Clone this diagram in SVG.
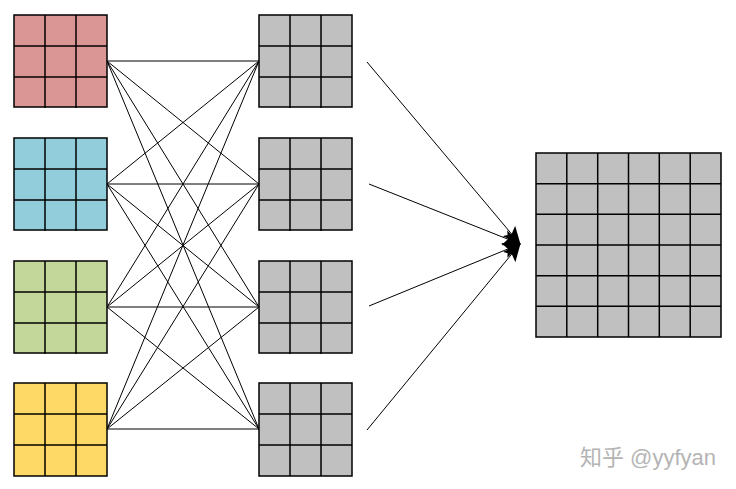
<svg xmlns="http://www.w3.org/2000/svg" width="736" height="489" viewBox="0 0 736 489">
<style>
.g line{stroke:#000;stroke-width:1.5}
.g rect{stroke:#000;stroke-width:1.5}
.c line{stroke:#000;stroke-width:1}
.red{fill:#DA9694}.blue{fill:#92CDDC}.green{fill:#C4D79B}.yellow{fill:#FFD966}.gray{fill:#C0C0C0}
.wm{font-family:"Liberation Sans","Noto Sans CJK SC",sans-serif;font-size:22px;fill:#b4b4b4}
</style>
<defs>
<marker id="ah" markerWidth="18" markerHeight="16" refX="17" refY="8" orient="auto" markerUnits="userSpaceOnUse">
<path d="M0,0 L18,8 L0,16 L4,8 Z" fill="#000"/>
</marker>
<g id="g3" stroke="#000" stroke-width="1.5">
<line x1="31" y1="0" x2="31" y2="93"/><line x1="62" y1="0" x2="62" y2="93"/>
<line x1="0" y1="31" x2="93" y2="31"/><line x1="0" y1="62" x2="93" y2="62"/>
</g>
</defs>
<rect width="736" height="489" fill="#fff"/>
<g id="connectors" class="c">
<line x1="107" y1="61" x2="259" y2="61"/><line x1="107" y1="61" x2="259" y2="184"/><line x1="107" y1="61" x2="259" y2="307"/><line x1="107" y1="61" x2="259" y2="429"/>
<line x1="107" y1="184" x2="259" y2="61"/><line x1="107" y1="184" x2="259" y2="184"/><line x1="107" y1="184" x2="259" y2="307"/><line x1="107" y1="184" x2="259" y2="429"/>
<line x1="107" y1="307" x2="259" y2="61"/><line x1="107" y1="307" x2="259" y2="184"/><line x1="107" y1="307" x2="259" y2="307"/><line x1="107" y1="307" x2="259" y2="429"/>
<line x1="107" y1="429" x2="259" y2="61"/><line x1="107" y1="429" x2="259" y2="184"/><line x1="107" y1="429" x2="259" y2="307"/><line x1="107" y1="429" x2="259" y2="429"/>
<line x1="367" y1="62" x2="520" y2="244" marker-end="url(#ah)"/>
<line x1="369" y1="184" x2="520" y2="244" marker-end="url(#ah)"/>
<line x1="369" y1="306" x2="520" y2="244" marker-end="url(#ah)"/>
<line x1="367" y1="430" x2="520" y2="244" marker-end="url(#ah)"/>
</g>
<g id="in1" class="g" transform="translate(14,15)"><rect class="red" width="93" height="92"/><use href="#g3"/></g>
<g id="in2" class="g" transform="translate(14,138)"><rect class="blue" width="93" height="92"/><use href="#g3"/></g>
<g id="in3" class="g" transform="translate(14,261)"><rect class="green" width="93" height="92"/><use href="#g3"/></g>
<g id="in4" class="g" transform="translate(14,383)"><rect class="yellow" width="93" height="93"/><use href="#g3"/></g>
<g id="mid1" class="g" transform="translate(259,15)"><rect class="gray" width="93" height="92"/><use href="#g3"/></g>
<g id="mid2" class="g" transform="translate(259,138)"><rect class="gray" width="93" height="92"/><use href="#g3"/></g>
<g id="mid3" class="g" transform="translate(259,261)"><rect class="gray" width="93" height="92"/><use href="#g3"/></g>
<g id="mid4" class="g" transform="translate(259,383)"><rect class="gray" width="93" height="93"/><use href="#g3"/></g>
<g id="out" class="g" transform="translate(536,153)">
<rect class="gray" width="185" height="184"/>
<line x1="30.8" y1="0" x2="30.8" y2="184"/><line x1="61.7" y1="0" x2="61.7" y2="184"/><line x1="92.5" y1="0" x2="92.5" y2="184"/><line x1="123.3" y1="0" x2="123.3" y2="184"/><line x1="154.2" y1="0" x2="154.2" y2="184"/>
<line x1="0" y1="30.7" x2="185" y2="30.7"/><line x1="0" y1="61.3" x2="185" y2="61.3"/><line x1="0" y1="92" x2="185" y2="92"/><line x1="0" y1="122.7" x2="185" y2="122.7"/><line x1="0" y1="153.3" x2="185" y2="153.3"/>
</g>
<text class="wm" x="580" y="465">知乎 @yyfyan</text>
</svg>
